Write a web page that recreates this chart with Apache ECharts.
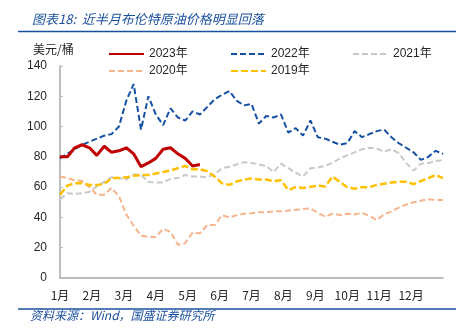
<!DOCTYPE html>
<html><head><meta charset="utf-8">
<script src="https://cdn.jsdelivr.net/npm/echarts@6/dist/echarts.min.js"></script>
<style>html,body{margin:0;padding:0;background:#fff}#c{width:464px;height:330px}</style>
</head><body><div id="c"></div>
<script>
// Month labels for the x axis (weekly samples, 52 weeks per year)
const monthLabels = ['1月','2月','3月','4月','5月','6月','7月','8月','9月','10月','11月','12月'];
const weeksPerYear = 52;
const seriesNames = ['2023年','2022年','2021年','2020年','2019年'];

const y2023 = [80,80,86,88,86,81,87,83,84,86,82,73.5,76,79,85,86,82,79,74,75];
const y2022 = [79,82,85,88,90,92,94,95,100,117,128,98,120,108,101,112,106,104,110,108,
  113,118,121,123.5,117,114,115,102,107,106,108,96,99,94,104,93,92,90,88,89,
  97,93,95,97,98,93,89,86,83,78,80,84,82];
const y2021 = [52,56,55.5,56,57,60.5,63.5,66.5,66,65,68.5,68,63.5,63,63,65.5,66,68,67,67,
  66.5,68.5,72.5,73.5,75,76.5,76,75,74,70,75.5,72.5,69.5,67,72.5,73,74,76,79,81,
  83,85,86,85.5,83.5,85,82.5,76,71,75.5,76,77,78];
const y2020 = [67,66,64.5,64,60,55,55,59.5,54,42,34.5,28,27.3,27,32.5,30.5,22,23,30,29.5,
  35,35,41.5,40,41.5,42.5,42.7,43.5,43.5,44,44,44.5,45,45.5,46,43,40.5,42.5,41.6,42.5,
  42,43,41,38.3,42,44,46.5,48.5,50,51,52,51.5,51.5];
const y2019 = [55,61,62.5,62.5,61.4,61.4,62,66,66,66.5,67.5,68,68,69,70,71,72.5,74,71.8,71.8,
  70.5,67,62.5,61.5,63.8,65,65.8,65,65,64,64.5,58,60,59.5,60.3,61,60.5,67,63.5,60,
  59,60,60,61.5,62.3,63,63.5,63.6,62,64,66,68,66];

function toPts(arr){ return arr.map((v,i)=>[i*12/weeksPerYear, v]); }

const chart = echarts.init(document.getElementById('c'), null, {renderer:'canvas'});
const blue = '#1a4f9c';
const txt = '#262626';
const fontFam = 'Liberation Sans, Arial, Noto Sans CJK SC, sans-serif';

const styles = {
  '2023年': {color:'#c00000', width:3, type:'solid', z:10},
  '2022年': {color:'#1450a3', width:2, type:[6,3], z:8},
  '2021年': {color:'#c9c9c9', width:2, type:[6,3], z:4},
  '2020年': {color:'#f5b48c', width:2, type:[6,3], z:3},
  '2019年': {color:'#ffc000', width:2.5, type:[7,3], z:6}
};
const dataMap = {'2023年':y2023,'2022年':y2022,'2021年':y2021,'2020年':y2020,'2019年':y2019};

const legendPos = [
  {name:'2023年', left:103, top:43},
  {name:'2022年', left:225, top:43},
  {name:'2021年', left:347, top:43},
  {name:'2020年', left:103, top:60},
  {name:'2019年', left:225, top:60}
];

chart.setOption({
  animation:false,
  backgroundColor:'#fff',
  title:{
    text:'图表18:  近半月布伦特原油价格明显回落',
    left:27, top:8,
    textStyle:{color:blue, fontSize:13, fontStyle:'italic', fontWeight:'normal', fontFamily:'Noto Sans CJK SC, sans-serif'}
  },
  graphic:[
    {type:'line', shape:{x1:18,y1:31.5,x2:456,y2:31.5}, style:{stroke:blue, lineWidth:1.5}},
    {type:'line', shape:{x1:18,y1:309,x2:456,y2:309}, style:{stroke:blue, lineWidth:1.5}},
    {type:'text', left:33, top:43, style:{text:'美元/桶', fill:txt, font:'12px "Noto Sans CJK SC", sans-serif'}},
    {type:'text', left:30, top:309, style:{text:'资料来源：Wind，国盛证券研究所', fill:blue, font:'italic 12px "Noto Sans CJK SC", sans-serif'}}
  ],
  legend: legendPos.map(p=>({
    data:[p.name], left:p.left, top:p.top, itemWidth:35, itemHeight:14, itemGap:0,
    itemStyle:{opacity:0},
    textStyle:{color:txt, fontSize:12, fontFamily:fontFam}
  })),
  grid:{left:60, right:21, top:66, bottom:52},
  xAxis:{
    type:'value', min:0, max:12, interval:1,
    axisLine:{lineStyle:{color:'#a6a6a6', width:1.5}},
    axisTick:{show:false},
    splitLine:{show:false},
    axisLabel:{color:txt, fontSize:12, margin:11, fontFamily:'Noto Sans CJK SC, sans-serif',
      formatter:v=> (v<12 ? monthLabels[v] : '')}
  },
  yAxis:{
    type:'value', min:0, max:140, interval:20,
    axisLine:{show:true, lineStyle:{color:'#bfbfbf', width:2}},
    axisTick:{show:true, inside:true, length:3, lineStyle:{color:'#bfbfbf'}},
    splitLine:{show:false},
    axisLabel:{color:txt, fontSize:12, margin:13, fontFamily:fontFam}
  },
  series: ['2020年','2021年','2019年','2022年','2023年'].map(n=>({
    name:n, type:'line', data:toPts(dataMap[n]), symbol:'none', z:styles[n].z,
    lineStyle:{color:styles[n].color, width:styles[n].width, type:styles[n].type},
    itemStyle:{color:styles[n].color}
  }))
});
</script></body></html>
